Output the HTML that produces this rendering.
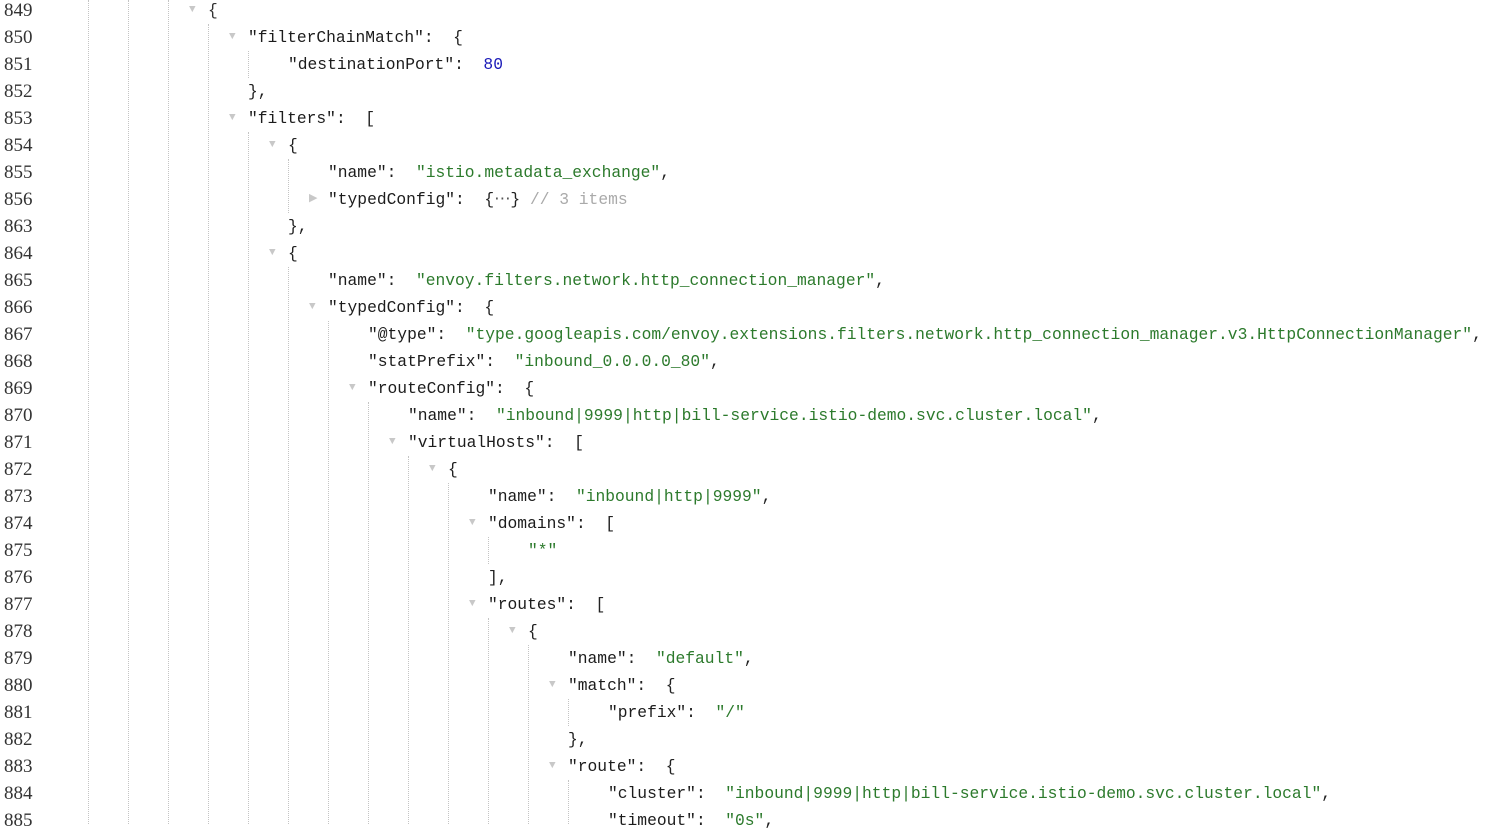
<!DOCTYPE html>
<html><head><meta charset="utf-8"><style>
body{margin:0;width:1485px;height:824px;overflow:hidden;background:#fff;position:relative;font-family:"Liberation Mono",monospace;}
.l{position:absolute;left:0;height:27px;line-height:27px;white-space:pre;font-size:16.3px;color:#222;}
.n{position:absolute;left:4px;font-family:"Liberation Serif",serif;font-size:19px;color:#333;}
.c{position:absolute;}
.t{position:absolute;color:#c8c8c8;font-size:11px;}
.s{color:#2c7a2c}.k{color:#1c1c1c}.num{color:#1a1ab8}.cm{color:#aaa}.p{color:#333}
.g{position:absolute;width:0;border-left:1px dotted #c4c4c4;}
</style></head><body>
<div class="g" style="left:88px;top:0;height:824px"></div>
<div class="g" style="left:128px;top:0;height:824px"></div>
<div class="g" style="left:168px;top:0;height:824px"></div>
<div class="g" style="left:208px;top:24px;height:800px"></div>
<div class="g" style="left:248px;top:51px;height:27px"></div>
<div class="g" style="left:248px;top:132px;height:692px"></div>
<div class="g" style="left:288px;top:159px;height:54px"></div>
<div class="g" style="left:288px;top:267px;height:557px"></div>
<div class="g" style="left:328px;top:321px;height:503px"></div>
<div class="g" style="left:368px;top:402px;height:422px"></div>
<div class="g" style="left:408px;top:456px;height:368px"></div>
<div class="g" style="left:448px;top:483px;height:341px"></div>
<div class="g" style="left:488px;top:537px;height:27px"></div>
<div class="g" style="left:488px;top:618px;height:206px"></div>
<div class="g" style="left:528px;top:645px;height:179px"></div>
<div class="g" style="left:568px;top:699px;height:27px"></div>
<div class="g" style="left:568px;top:780px;height:44px"></div>
<div id="lines"></div>
<script>
(function(){
var L=[
[849,0,1,'<span class="p">{</span>'],
[850,1,1,'<span class="k">"filterChainMatch"</span>:  {'],
[851,2,0,'<span class="k">"destinationPort"</span>:  <span class="num">80</span>'],
[852,1,0,'},'],
[853,1,1,'<span class="k">"filters"</span>:  ['],
[854,2,1,'{'],
[855,3,0,'<span class="k">"name"</span>:  <span class="s">"istio.metadata_exchange"</span>,'],
[856,3,2,'<span class="k">"typedConfig"</span>:  {<span style="color:#555">⋯</span>} <span class="cm">// 3 items</span>'],
[863,2,0,'},'],
[864,2,1,'{'],
[865,3,0,'<span class="k">"name"</span>:  <span class="s">"envoy.filters.network.http_connection_manager"</span>,'],
[866,3,1,'<span class="k">"typedConfig"</span>:  {'],
[867,4,0,'<span class="k">"@type"</span>:  <span class="s">"type.googleapis.com/envoy.extensions.filters.network.http_connection_manager.v3.HttpConnectionManager"</span>,'],
[868,4,0,'<span class="k">"statPrefix"</span>:  <span class="s">"inbound_0.0.0.0_80"</span>,'],
[869,4,1,'<span class="k">"routeConfig"</span>:  {'],
[870,5,0,'<span class="k">"name"</span>:  <span class="s">"inbound|9999|http|bill-service.istio-demo.svc.cluster.local"</span>,'],
[871,5,1,'<span class="k">"virtualHosts"</span>:  ['],
[872,6,1,'{'],
[873,7,0,'<span class="k">"name"</span>:  <span class="s">"inbound|http|9999"</span>,'],
[874,7,1,'<span class="k">"domains"</span>:  ['],
[875,8,0,'<span class="s">"*"</span>'],
[876,7,0,'],'],
[877,7,1,'<span class="k">"routes"</span>:  ['],
[878,8,1,'{'],
[879,9,0,'<span class="k">"name"</span>:  <span class="s">"default"</span>,'],
[880,9,1,'<span class="k">"match"</span>:  {'],
[881,10,0,'<span class="k">"prefix"</span>:  <span class="s">"/"</span>'],
[882,9,0,'},'],
[883,9,1,'<span class="k">"route"</span>:  {'],
[884,10,0,'<span class="k">"cluster"</span>:  <span class="s">"inbound|9999|http|bill-service.istio-demo.svc.cluster.local"</span>,'],
[885,10,0,'<span class="k">"timeout"</span>:  <span class="s">"0s"</span>,']
];
var h='';
for(var i=0;i<L.length;i++){var r=L[i],yy=-3+i*27,x=208+40*r[1];
h+='<div class="l" style="top:'+yy+'px;width:1485px"><span class="n">'+r[0]+'</span>';
if(r[2])h+='<span class="t" style="left:'+(x-19)+'px">'+(r[2]==1?'▼':'▶')+'</span>';
h+='<span class="c" style="left:'+x+'px">'+r[3]+'</span></div>';}
document.getElementById('lines').innerHTML=h;
})();
</script>
</body></html>
